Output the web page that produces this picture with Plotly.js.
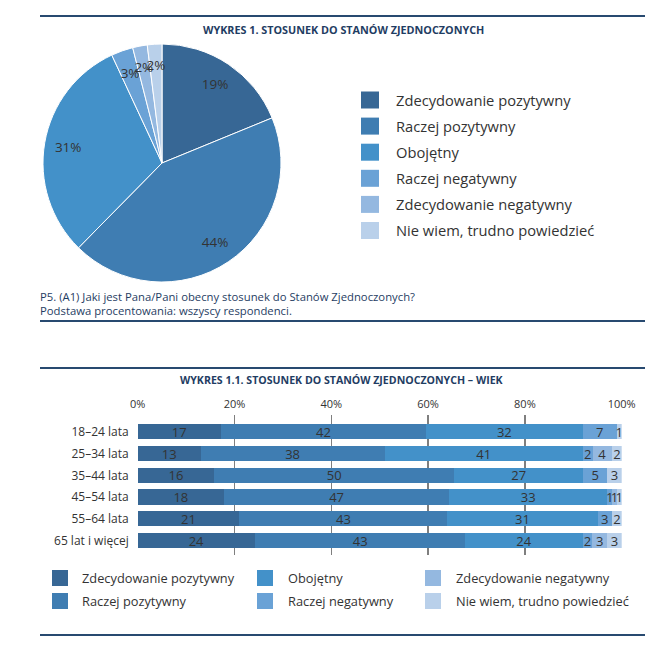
<!DOCTYPE html>
<html>
<head>
<meta charset="utf-8">
<script src="https://cdn.plot.ly/plotly-3.0.1.min.js"></script>
<style>
html,body{margin:0;padding:0;background:#fff;}
#chart{width:664px;height:655px;}
</style>
</head>
<body>
<div id="chart"></div>
<script>
// ---------- DATA ----------
const categories = ['Zdecydowanie pozytywny','Raczej pozytywny','Obojętny','Raczej negatywny','Zdecydowanie negatywny','Nie wiem, trudno powiedzieć'];
const pieValues = [19, 44, 31, 3, 2, 2];

const ageGroups = ['18–24 lata','25–34 lata','35–44 lata','45–54 lata','55–64 lata','65 lat i więcej'];
const zdecPoz   = [17, 13, 16, 18, 21, 24];
const raczejPoz = [42, 38, 50, 47, 43, 43];
const obojetny  = [32, 41, 27, 33, 31, 24];
const raczejNeg = [7, 2, 5, 1, 3, 2];
const zdecNeg   = [0, 4, 0, 1, 0, 3];
const nieWiem   = [1, 2, 3, 1, 2, 3];

const xTickVals = [0, 20, 40, 60, 80, 100];
const xTickText = ['0%','20%','40%','60%','80%','100%'];

const title1 = 'WYKRES 1. STOSUNEK DO STANÓW ZJEDNOCZONYCH';
const title2 = 'WYKRES 1.1. STOSUNEK DO STANÓW ZJEDNOCZONYCH – WIEK';
const note1 = 'P5. (A1) Jaki jest Pana/Pani obecny stosunek do Stanów Zjednoczonych?';
const note2 = 'Podstawa procentowania: wszyscy respondenci.';

// ---------- STYLE ----------
const colors = ['#376795','#3f7db2','#4391c9','#6aa2d6','#94b8e0','#b9d0ea'];
const W = 664, H = 655;
const px = x => x / W;
const py = y => 1 - y / H;
const FONT = 'Open Sans, Lato, sans-serif';
const NAVY = '#1f3d63';
const TXT = '#333333';

const barSeries = [zdecPoz, raczejPoz, obojetny, raczejNeg, zdecNeg, nieWiem];
const CX = 162, CY = 163, R = 119;
const pieDomain = {x: [px(CX - R), px(CX + R)], y: [py(CY + R), py(CY - R)]};
const R2 = 104;
const smallDomain = {x: [px(CX - R2), px(CX + R2)], y: [py(CY + R2), py(CY - R2)]};
const transparent = categories.map(() => 'rgba(0,0,0,0)');

const traces = [];
// filled pie
traces.push({
  type: 'pie',
  labels: categories,
  values: pieValues,
  sort: false,
  direction: 'clockwise',
  rotation: 0,
  marker: {colors: colors, line: {color: '#ffffff', width: 1}},
  textinfo: 'none',
  domain: pieDomain,
  showlegend: false,
  hoverinfo: 'label+value'
});
// label ring for the large slices (transparent)
traces.push({
  type: 'pie',
  labels: categories,
  values: pieValues,
  sort: false,
  direction: 'clockwise',
  rotation: 0,
  hole: 0.6,
  marker: {colors: transparent, line: {width: 0}},
  text: pieValues.map(v => v >= 10 ? v + '%' : ''),
  textinfo: 'text',
  textposition: 'inside',
  insidetextorientation: 'horizontal',
  textfont: {family: FONT, size: 13.5, color: TXT},
  domain: pieDomain,
  showlegend: false,
  hoverinfo: 'skip'
});
// label ring for the thin slices, slightly smaller radius (transparent)
traces.push({
  type: 'pie',
  labels: categories,
  values: pieValues,
  sort: false,
  direction: 'clockwise',
  rotation: 0,
  hole: 0.6,
  marker: {colors: transparent, line: {width: 0}},
  text: pieValues.map(v => v < 10 ? v + '%' : ''),
  textinfo: 'text',
  textposition: 'inside',
  insidetextorientation: 'horizontal',
  textfont: {family: FONT, size: 13.5, color: TXT},
  domain: smallDomain,
  showlegend: false,
  hoverinfo: 'skip'
});

barSeries.forEach((vals, i) => {
  traces.push({
    type: 'bar',
    orientation: 'h',
    y: ageGroups,
    x: vals,
    name: categories[i],
    marker: {color: colors[i], line: {width: 0}},
    text: vals.map(v => v > 0 ? String(v) : ''),
    textposition: 'inside',
    insidetextanchor: 'middle',
    textangle: 0,
    constraintext: 'none',
    textfont: {family: FONT, size: 11.5, color: TXT},
    showlegend: false,
    xaxis: 'x',
    yaxis: 'y'
  });
});

// ---------- LAYOUT EXTRAS ----------
const shapes = [];
const annotations = [];
[16, 321, 368, 635].forEach(y => {
  shapes.push({type: 'line', xref: 'paper', yref: 'paper', x0: px(40), x1: px(645), y0: py(y), y1: py(y),
    line: {color: '#284a70', width: 2}});
});

annotations.push({xref: 'paper', yref: 'paper', x: px(343), y: py(29), xanchor: 'center', yanchor: 'middle',
  text: '<b>' + title1 + '</b>', showarrow: false, font: {family: FONT, size: 10.8, color: NAVY}});
annotations.push({xref: 'paper', yref: 'paper', x: px(342), y: py(380), xanchor: 'center', yanchor: 'middle',
  text: '<b>' + title2 + '</b>', showarrow: false, font: {family: FONT, size: 10.6, color: NAVY}});
annotations.push({xref: 'paper', yref: 'paper', x: px(38), y: py(296.5), xanchor: 'left', yanchor: 'middle',
  text: note1, showarrow: false, font: {family: FONT, size: 11.3, color: NAVY}});
annotations.push({xref: 'paper', yref: 'paper', x: px(38), y: py(310), xanchor: 'left', yanchor: 'middle',
  text: note2, showarrow: false, font: {family: FONT, size: 11.3, color: NAVY}});

// pie legend
categories.forEach((c, i) => {
  const yc = 100 + i * 26.1;
  shapes.push({type: 'rect', xref: 'paper', yref: 'paper', x0: px(361), x1: px(379), y0: py(yc + 8.5), y1: py(yc - 8.5),
    fillcolor: colors[i], line: {width: 0}});
  annotations.push({xref: 'paper', yref: 'paper', x: px(394), y: py(yc), xanchor: 'left', yanchor: 'middle',
    text: c, showarrow: false, font: {family: FONT, size: 14.7, color: TXT}});
});

// bar legend (3 columns x 2 rows, column-major)
const colSq = [52, 257, 425];
const colTx = [80, 286, 454];
const rowY = [578, 601];
categories.forEach((c, i) => {
  const col = Math.floor(i / 2), row = i % 2;
  const yc = rowY[row];
  shapes.push({type: 'rect', xref: 'paper', yref: 'paper', x0: px(colSq[col]), x1: px(colSq[col] + 16), y0: py(yc + 8), y1: py(yc - 8),
    fillcolor: colors[i], line: {width: 0}});
  annotations.push({xref: 'paper', yref: 'paper', x: px(colTx[col]), y: py(yc), xanchor: 'left', yanchor: 'middle',
    text: c, showarrow: false, font: {family: FONT, size: 12.8, color: TXT}});
});

const layout = {
  width: W, height: H,
  margin: {l: 0, r: 0, t: 0, b: 0},
  paper_bgcolor: '#ffffff',
  plot_bgcolor: 'rgba(0,0,0,0)',
  font: {family: FONT, color: TXT},
  barmode: 'stack',
  barnorm: 'percent',
  bargap: 0.3,
  showlegend: false,
  uniformtext: {mode: 'show', minsize: 13},
  xaxis: {
    domain: [px(137.7), px(621.7)],
    range: [0, 100],
    side: 'top',
    tickvals: xTickVals,
    ticktext: xTickText,
    showgrid: true,
    gridcolor: '#7f7f7f',
    gridwidth: 1.5,
    zeroline: false,
    showline: false,
    ticks: '',
    ticklabelstandoff: 4,
    tickfont: {family: FONT, size: 11, color: TXT},
    fixedrange: true
  },
  yaxis: {
    domain: [py(555), py(415)],
    type: 'category',
    categoryorder: 'array',
    categoryarray: ageGroups,
    range: [5.66, -0.77],
    autorange: false,
    showgrid: false,
    zeroline: false,
    showline: false,
    ticks: '',
    ticklabelstandoff: 8,
    tickfont: {family: FONT, size: 12, color: TXT},
    fixedrange: true
  },
  shapes: shapes,
  annotations: annotations
};

Plotly.newPlot('chart', traces, layout, {displayModeBar: false, staticPlot: true});
</script>
</body>
</html>
